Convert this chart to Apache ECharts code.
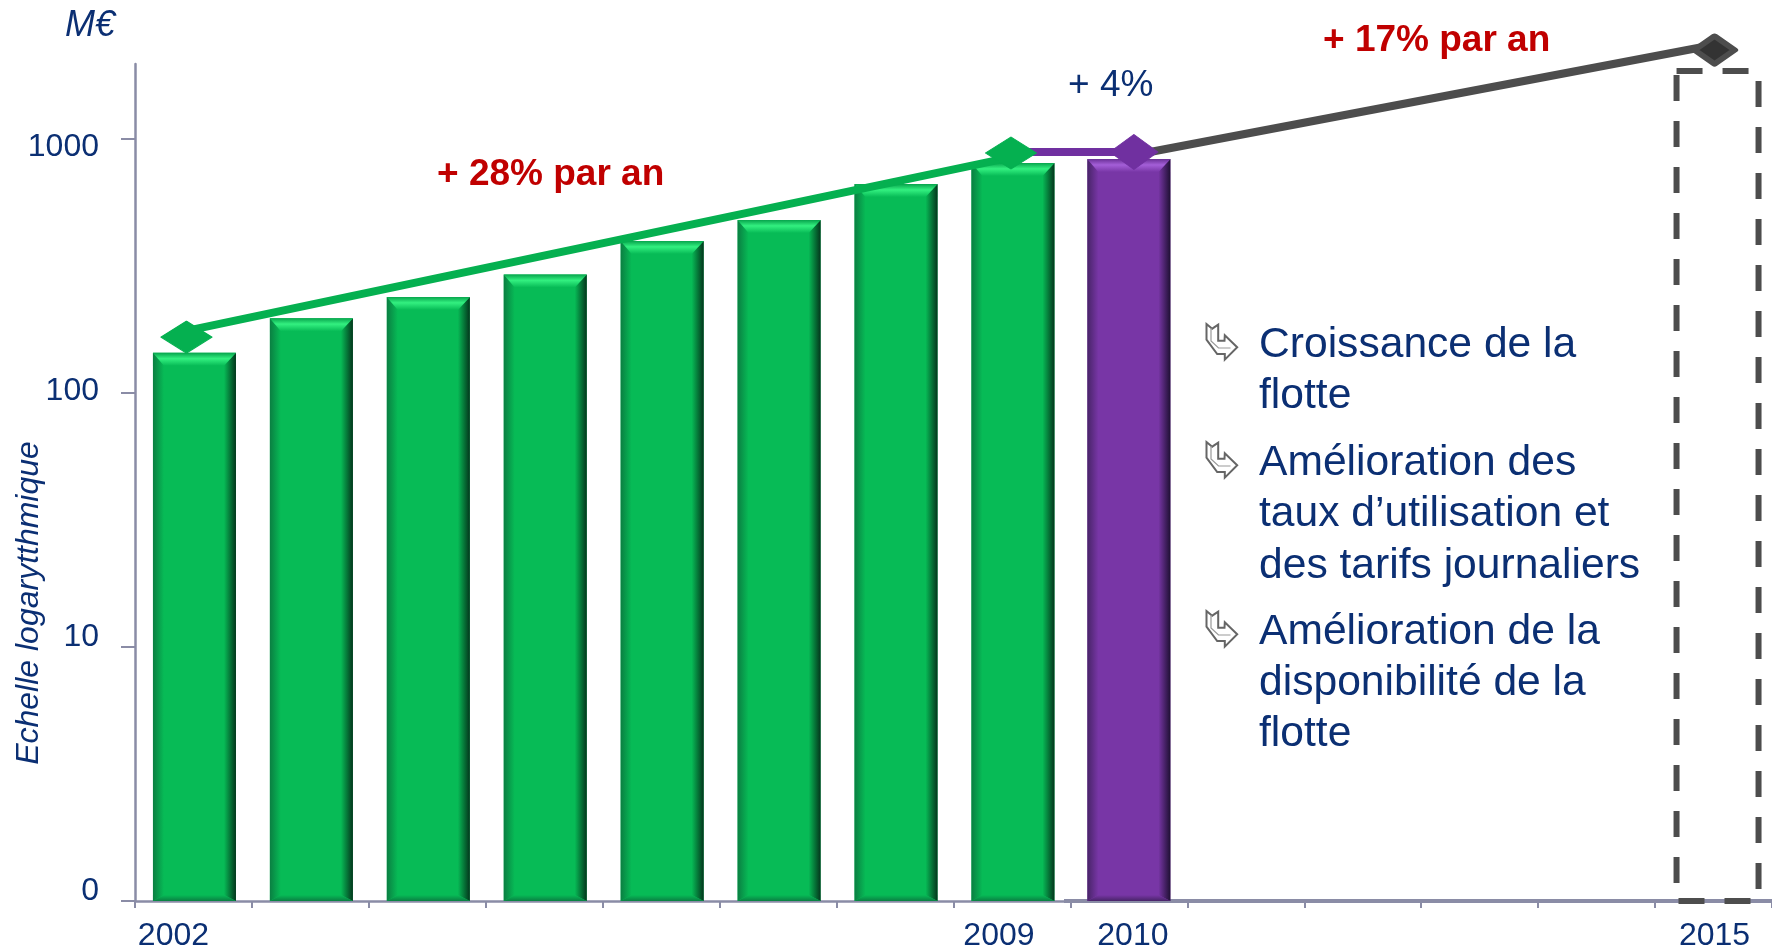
<!DOCTYPE html>
<html><head><meta charset="utf-8">
<style>html,body{margin:0;padding:0;background:#fff}#c{width:1772px;height:952px}</style>
<script src="https://cdn.jsdelivr.net/npm/echarts@6/dist/echarts.min.js"></script>
</head><body><div id="c"></div>
<script>
const categories=['2002','2003','2004','2005','2006','2007','2008','2009','2010','2011','2012','2013','2014','2015'];
const shownYears=['2002','2009','2010','2015'];
const greenBars=[144,197,239,293,397,480,665,805,null,null,null,null,null,null];
const purpleBars=[null,null,null,null,null,null,null,null,834,null,null,null,null,null];
const forecastBar=[null,null,null,null,null,null,null,null,null,null,null,null,null,1852];
const greenLine=[178,null,null,null,null,null,null,849,null,null,null,null,null,null];
const purpleLine=[null,null,null,null,null,null,null,889,889,null,null,null,null,null];
const greyLine=[null,null,null,null,null,null,null,null,857,null,null,null,null,2345];
const greenDiamonds=[166,null,null,null,null,null,null,881,null,null,null,null,null,null];
const purpleDiamonds=[null,null,null,null,null,null,null,null,889,null,null,null,null,null];
const greyDiamonds=[null,null,null,null,null,null,null,null,null,null,null,null,null,2240];
const yTicks=[1,10,100,1000];
const NAVY='#0b2f73',RED='#c00000',AXIS='#8a8ca6',FONT='"Liberation Sans",Arial,sans-serif';
const chart=echarts.init(document.getElementById('c'),null,{renderer:'canvas'});
const lg=(x0,y0,x1,y1,a,b,mid)=>new echarts.graphic.LinearGradient(x0,y0,x1,y1,mid?[{offset:0,color:a},{offset:.45,color:mid},{offset:1,color:b}]:[{offset:0,color:a},{offset:1,color:b}]);
function bevelBar(p,dx){return function(params,api){
  if(api.value(1)==null||isNaN(api.value(1)))return;
  const top=api.coord([api.value(0),api.value(1)]);const base=api.coord([api.value(0),1]);
  const w=83,l=top[0]-w/2+dx,r=l+w,t=top[1],b=base[1];
  const L=11,R=12,T=13,B=6;
  const poly=(pts,fill)=>({type:'polygon',shape:{points:pts},style:{fill:fill},silent:true});
  return {type:'group',children:[
    {type:'rect',shape:{x:l,y:t,width:w,height:b-t},style:{fill:p.main}},
    poly([[l,t],[l+L,t+T],[l+L,b-B],[l,b]],lg(0,0,1,0,p.left,p.main)),
    poly([[r,t],[r-R,t+T],[r-R,b-B],[r,b]],lg(0,0,1,0,p.main,p.right)),
    poly([[l,t],[r,t],[r-R,t+T],[l+L,t+T]],lg(0,0,0,1,p.topEdge,p.main,p.top)),
    poly([[l,b],[r,b],[r-R,b-B],[l+L,b-B]],lg(0,0,0,1,p.main,p.left))
  ]};
};}
function dashedBox(params,api){
  if(api.value(1)==null||isNaN(api.value(1)))return;
  const top=api.coord([api.value(0),api.value(1)]);const base=api.coord([api.value(0),1]);
  const w=82,l=top[0]-w/2+4;
  return {type:'rect',silent:true,shape:{x:l,y:top[1],width:w,height:base[1]-top[1]},style:{fill:'none',stroke:'#4d4d4d',lineWidth:6,lineDash:[26,20]}};
}
const GREEN={main:'#07bb56',left:'#0a7f42',right:'#04351c',top:'#33f080',topEdge:'#07a44c'};
const PURPLE={main:'#7836a6',left:'#482468',right:'#1f1033',top:'#a45fd8',topEdge:'#6a3096'};
const barData=a=>a.map((v,i)=>[i,v]);
const lineSeries=(d,c,z)=>({type:'line',data:d,connectNulls:true,symbol:'none',clip:false,z:z,lineStyle:{color:c,width:8,cap:'butt'},silent:true});
const diamonds=(d,fill,offsets,size,stroke)=>({type:'scatter',data:d.map((v,i)=>v==null?null:{value:v,symbolOffset:[offsets[i]||0,0]}),symbol:'diamond',symbolSize:size,clip:false,z:6,silent:true,itemStyle:{opacity:1,color:fill,borderColor:stroke||fill,borderWidth:stroke?6:1,borderJoin:'round'}});
const bulletLines=[['Croissance de la',345,true],['flotte',396,false],['Amélioration des',463,true],['taux d’utilisation et',514,false],['des tarifs journaliers',566,false],['Amélioration de la',632,true],['disponibilité de la',683,false],['flotte',734,false]];
const text=(s,x,y,size,color,extra)=>({type:'text',x:x,y:y,silent:true,z:20,style:Object.assign({text:s,fontSize:size,fill:color,fontFamily:FONT,textAlign:'left',textVerticalAlign:'middle'},extra||{})});
const arrow=(y)=>({type:'group',x:1206.5,y:y-21,silent:true,z:20,children:[
  {type:'polygon',silent:true,shape:{points:[[0,0],[5.7,4.7],[11.7,.7],[11.7,16.7],[18,16.7],[18.3,11.3],[30.7,23.3],[18.3,35.7],[18.3,30],[10.7,30],[0,15.7]]},style:{fill:'#fff',stroke:'#666',lineWidth:2}},
  {type:'polyline',silent:true,shape:{points:[[4.5,4],[4.5,17],[12,24],[24,24]]},style:{fill:'none',stroke:'#999',lineWidth:1.2}}]});
const graphics=[
 text('M€',65,26,36,NAVY,{fontStyle:'italic'}),
 {type:'text',x:29,y:603,rotation:Math.PI/2,silent:true,style:{text:'Echelle logarytthmique',fontSize:32,fontStyle:'italic',fill:NAVY,fontFamily:FONT,textAlign:'center',textVerticalAlign:'middle'}},
 text('+ 28% par an',437,175,37,RED,{fontWeight:'bold'}),
 text('+ 4%',1068,86,37,NAVY),
 text('+ 17% par an',1323,41,37,RED,{fontWeight:'bold'}),
 ...bulletLines.map(b=>text(b[0],1259,b[1],42.6,NAVY)),
 ...bulletLines.filter(b=>b[2]).map(b=>arrow(b[1])),
 {type:'line',silent:true,z:1,shape:{x1:1064,y1:901,x2:1772,y2:901},style:{stroke:AXIS,lineWidth:4}},
];
const labelShift={'2002':-20,'2009':-13,'2010':4,'2015':1};
const yLabelStyle={1:'d',10:'d',100:'m',1000:'u'};
chart.setOption({
 animation:false,backgroundColor:'#fff',
 grid:{left:135,right:0,top:64,bottom:51,containLabel:false},
 xAxis:{type:'category',data:categories,boundaryGap:true,
  axisLine:{onZero:false,lineStyle:{color:AXIS,width:2.5}},
  axisTick:{show:true,alignWithLabel:false,interval:0,length:7,lineStyle:{color:AXIS,width:2}},
  axisLabel:{interval:0,margin:19,hideOverlap:false,color:NAVY,fontSize:32,fontFamily:FONT,
   formatter:v=>{if(!shownYears.includes(v))return '';const s=labelShift[v];return s<0?'{l'+(-s)+'|'+v+'}':'{r'+s+'|'+v+'}';},
   rich:{l20:{padding:[0,40,0,0]},l13:{padding:[0,26,0,0]},r4:{padding:[0,0,0,8]},r1:{padding:[0,0,0,2]}}}},
 yAxis:{type:'log',logBase:10,min:1,max:1974,
  axisLine:{show:true,lineStyle:{color:AXIS,width:2.5}},
  splitLine:{show:false},minorTick:{show:false},
  axisTick:{show:true,length:14,customValues:yTicks,lineStyle:{color:AXIS,width:2}},
  axisLabel:{customValues:yTicks,margin:36,color:NAVY,fontSize:32,fontFamily:FONT,
   formatter:v=>{const s=yLabelStyle[Math.round(v)];return '{'+s+'|'+(v===1?'0':String(Math.round(v)))+'}';},
   rich:{u:{padding:[16,0,0,0]},m:{padding:[0,0,4,0]},d:{padding:[0,0,20,0]}}}},
 graphic:graphics,
 series:[
  {type:'custom',data:barData(greenBars),renderItem:bevelBar(GREEN,1),encode:{x:0,y:1},z:2,silent:true,clip:false},
  {type:'custom',data:barData(purpleBars),renderItem:bevelBar(PURPLE,0),encode:{x:0,y:1},z:2,silent:true,clip:false},
  {type:'custom',data:barData(forecastBar),renderItem:dashedBox,encode:{x:0,y:1},z:3,silent:true,clip:false},
  lineSeries(greenLine,'#05b050',4),lineSeries(purpleLine,'#7030a0',5),lineSeries(greyLine,'#4d4d4d',4),
  diamonds(greenDiamonds,'#05b050',{0:-7,7:-1},[51,32]),diamonds(purpleDiamonds,'#7030a0',{8:5},[48,35]),diamonds(greyDiamonds,'#333333',{13:1},[40,28],'#4d4d4d')
 ]
});
</script></body></html>
